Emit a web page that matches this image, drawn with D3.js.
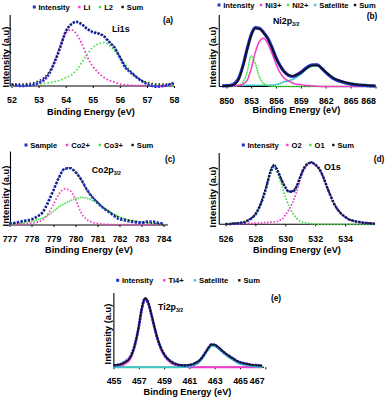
<!DOCTYPE html>
<html>
<head>
<meta charset="utf-8">
<script src="https://cdnjs.cloudflare.com/ajax/libs/d3/7.8.5/d3.min.js"></script>
<style>
  body { margin: 0; background: #fff; }
  svg { display: block; }
  text { font-family: "Liberation Sans", Arial, sans-serif; font-weight: bold; fill: #000; }
</style>
</head>
<body>
<svg id="chart" width="389" height="398"></svg>
<script>
// ---- (a) Li1s ----
var liEnergy = [52, 52.2, 52.4, 52.6, 52.8, 53, 53.2, 53.4, 53.6, 53.8, 54, 54.2, 54.4, 54.6, 54.8, 55,
  55.2, 55.4, 55.6, 55.8, 56, 56.2, 56.4, 56.6, 56.8, 57, 57.2, 57.4, 57.6, 57.8, 58];
var liIntensity = [2, 1, 0, 1, 2, 5, 10, 20, 38, 60, 85, 96, 100, 96, 89, 84, 82, 78, 69, 60, 45, 29, 21, 14, 8, 3, 0, -1, 0, 2, 5];
var liLi = [0, 0, 0.5, 1, 1.5, 3, 8, 19, 40, 64, 82, 88, 81, 66, 45, 31, 21, 14, 9, 6, 3, 2, 1, 0.5, 0.5, 0, 0, 0, 0, 0, 0];
var liL2 = [0, 0.5, 1, 1.5, 2, 3, 4, 5, 7, 9, 13, 17, 25, 37, 50, 60, 66, 68, 64, 55, 45, 34, 23, 15, 9, 5, 3, 2, 1, 0.5, 0];
var liSum = [3, 3, 3, 4, 5, 8, 13, 23, 39, 61, 85, 97, 101, 97, 90, 85, 83, 79, 70, 61, 46, 31, 23, 15, 9, 6, 4, 3, 3, 3, 3];

// ---- (b) Ni2p3/2 ----
var niEnergy = [849.5, 850, 850.5, 851, 851.5, 852, 852.5, 853, 853.5, 854, 854.5, 855, 855.5, 856, 856.5,
  857, 857.5, 858, 858.5, 859, 859.5, 860, 860.5, 861, 861.5, 862, 862.5, 863, 863.5, 864, 864.5,
  865, 865.5, 866, 866.5, 867, 867.5, 868];
var niIntensity = [1, 1.5, 2, 5, 14, 35, 63, 88, 100, 99, 92, 82, 67, 49, 35, 25, 19, 17, 20, 24, 30, 35, 37, 37, 31,
  24, 18, 13, 10, 8, 6, 4.5, 3, 2.5, 2, 1.5, 1, 1];
var niNi3 = [0, 0, 0.5, 1, 2, 3.5, 10, 30, 58, 77, 82, 73, 57, 38, 23, 14, 9, 6, 4, 3, 2, 1.5, 1, 0.5, 0,
  0, 0, 0, 0, 0, 0, 0, 0, 0, 0, 0, 0, 0];
var niNi2 = [0, 0, 0, 0.5, 2, 7, 24, 52, 39, 16, 5, 1.5, 0.5, 0, 0, 0, 0, 0, 0, 0, 0, 0, 0, 0, 0,
  0, 0, 0, 0, 0, 0, 0, 0, 0, 0, 0, 0, 0];
var niSat = [0, 0.5, 1, 1, 1.5, 1.5, 2, 2, 2, 2, 2, 2, 2.5, 3, 5, 8, 10, 12, 16, 21, 27, 32, 35, 35, 31,
  23, 17, 12, 8.5, 6, 4, 3, 2, 1.5, 1, 0.5, 0.5, 0];
var niSum = [0.5, 1, 1.5, 3.5, 12, 34, 62, 87, 99, 98, 91, 81, 66, 48, 35, 25, 20, 18, 20, 24, 29, 34, 36, 36, 31,
  25, 19, 14, 11, 8.5, 6.5, 5, 4, 3, 2.5, 2, 1.5, 1];

// ---- (c) Co2p3/2 ----
var coEnergy = [777, 777.25, 777.5, 777.75, 778, 778.25, 778.5, 778.75, 779, 779.25, 779.5, 779.75, 780,
  780.25, 780.5, 780.75, 781, 781.25, 781.5, 781.75, 782, 782.25, 782.5, 782.75, 783, 783.25, 783.5, 783.75, 784];
var coSample = [3, 4, 6, 8, 10, 15, 22, 40, 61, 83, 98, 99, 92, 80, 63, 49, 39, 30, 23, 16, 10, 8, 6, 4.5, 4, 6, 6, 4, 2.5];
var coCo2 = [1, 1, 1.5, 2, 3, 5, 9, 19, 36, 54, 63, 60, 45, 22, 10, 5, 3, 1.5, 1, 0.5, 0.5, 0.5, 0.5, 0.5, 0.5, 0.5, 0.5, 0.5, 0.5];
var coCo3 = [1, 2, 3, 4.5, 6, 9, 12, 17, 24, 32, 37, 42, 46, 48, 47, 43, 38, 31, 25, 19, 14, 11, 8, 6.5, 5, 4, 3, 2, 1];
var coSum = [2, 3, 4.5, 6.5, 9, 14, 21, 37, 60, 83, 98, 100, 93, 79, 62, 50, 40, 31, 24, 18, 13, 10, 8, 6.5, 5, 4, 3, 2, 1];

// ---- (d) O1s ----
var oEnergy = [526, 526.25, 526.5, 526.75, 527, 527.25, 527.5, 527.75, 528, 528.25, 528.5, 528.75, 529, 529.25,
  529.5, 529.75, 530, 530.25, 530.5, 530.75, 531, 531.25, 531.5, 531.75, 532, 532.25, 532.5, 532.75, 533,
  533.25, 533.5, 533.75, 534, 534.25, 534.5, 534.75, 535, 535.25, 535.5, 535.75, 536];
var oIntensity = [0.5, 0.5, 1, 1.5, 2, 3, 6, 10, 16, 27, 42, 62, 84, 94, 86, 72, 60, 53, 53, 61, 77, 91, 98, 100, 97,
  91, 79, 63, 48, 34, 24, 17, 12, 8, 6, 4.5, 3.5, 2.5, 2, 1.5, 1];
var oO2 = [0, 0, 0.5, 0.5, 1, 1, 1.5, 1.5, 2, 2, 2.5, 3, 3.5, 4, 5, 8, 15, 24, 36, 52, 72, 88, 97, 100, 96,
  90, 79, 63, 48, 34, 24, 17, 12, 8, 6, 4.5, 3.5, 2.5, 2, 1.5, 1];
var oO1 = [0.5, 0.5, 1, 1, 2, 3, 5.5, 9, 15, 26, 41, 61, 83, 93, 82, 64, 45, 29, 18, 10, 5, 3, 2, 1, 0.5,
  0, 0, 0, 0, 0, 0, 0, 0, 0, 0, 0, 0, 0, 0, 0, 0];
var oSum = [0.5, 0.5, 1.5, 1.5, 3, 4, 7, 10.5, 17, 28, 43.5, 64, 86.5, 97, 87, 72, 60, 53, 54, 62, 77, 91, 99, 101, 96.5,
  90, 79, 63, 48, 34, 24, 17, 12, 8, 6, 4.5, 3.5, 2.5, 2, 1.5, 1];

// ---- (e) Ti2p3/2 ----
var tiEnergy = [455, 455.25, 455.5, 455.75, 456, 456.25, 456.5, 456.75, 457, 457.25, 457.5, 457.75, 458, 458.25,
  458.5, 458.75, 459, 459.25, 459.5, 459.75, 460, 460.25, 460.5, 460.75, 461, 461.25, 461.5, 461.75, 462,
  462.25, 462.5, 462.75, 463, 463.25, 463.5, 463.75, 464, 464.25, 464.5, 464.75, 465, 465.25, 465.5, 465.75,
  466, 466.25, 466.5, 466.75];
var tiIntensity = [2, 3, 4, 6, 9, 13, 22, 37, 59, 86, 100, 93, 76, 57, 40, 28, 19, 13, 9, 6, 4, 3, 2.5, 2.5, 3,
  4, 6, 9, 14, 21, 28, 33, 32, 29, 25, 21, 18, 15, 12, 9, 7, 6, 5, 4, 3, 3, 2.5, 2];
var tiTi4 = [0.5, 1, 1.5, 3, 6, 10, 19, 35, 58, 85, 98, 92, 75, 56, 39, 26, 17, 11, 7, 4, 2.5, 1.5, 1, 0.5,
  0, 0, 0, 0, 0, 0, 0, 0, 0, 0, 0, 0, 0, 0, 0, 0, 0, 0, 0, 0, 0, 0, 0, 0];
var tiSat = [0, 0, 0, 0, 0, 0, 0, 0, 0, 0, 0, 0, 0, 0, 0, 0, 0, 0, 0, 0, 0, 0, 0.5, 0.5, 1,
  2, 4, 7, 12, 19, 26, 31, 31, 28, 24, 20, 16, 13, 10, 7, 5, 4, 3, 2, 1.5, 1, 0.5, 0.5];
var tiSum = [3, 3.5, 4, 5.5, 8, 12, 21, 37, 60, 87, 100, 94, 77, 58, 41, 28, 19, 13, 9, 6, 4.5, 3.5, 3, 3, 3.5,
  4.5, 6.5, 9.5, 14, 21, 28, 33, 33, 30, 26, 22, 18, 15, 12, 9.5, 7.5, 6, 5, 4, 3.5, 3, 2.5, 2.5];

var BLUE = "#2233d0", PINK = "#f03cc8", GREEN = "#44e044", CYAN = "#3cc8c8", BLACK = "#111";

var panels = [
  { label: "(a)", labelPos: [168, 20], title: ["Li1s", ""], titlePos: [112, 29],
    energy: liEnergy, xDomain: [52, 58], xRange: [11.5, 174], xLo: 51.95, xHi: 58,
    ticks: [52, 53, 54, 55, 56, 57, 58], clampLast: false,
    base: 86, top: 22, axisTop: 15,
    legendY: 7, legendSpan: [34.3, 143.3],
    yTitle: [6, 57], xTitle: [91, 111.7],
    series: [
      { name: "Intensity", values: liIntensity, color: BLUE, width: 2.6, dash: "2.4 1.1", z: 2 },
      { name: "Li", values: liLi, color: PINK, width: 1.8, dash: "1.7 1.9", z: 0 },
      { name: "L2", values: liL2, color: GREEN, width: 1.7, dash: "1.6 2", z: 1 },
      { name: "Sum", values: liSum, color: BLACK, width: 1.5, dash: "1.4 2.2", z: 3 }
    ] },
  { label: "(b)", labelPos: [372, 16], title: ["Ni2p", "3/2"], titlePos: [273, 21],
    energy: niEnergy, xDomain: [850, 868], xRange: [226.3, 375.5], xLo: 849.15, xHi: 868,
    ticks: [850, 853, 856, 859, 862, 865, 868], clampLast: true,
    base: 86.5, top: 27.7, axisTop: 15,
    legendY: 5, legendSpan: [219, 375.7],
    yTitle: [212.3, 57], xTitle: [296.5, 109.5],
    series: [
      { name: "Intensity", values: niIntensity, color: BLUE, width: 3.2, dash: null, z: 3 },
      { name: "Ni3+", values: niNi3, color: PINK, width: 1.5, dash: null, z: 2 },
      { name: "Ni2+", values: niNi2, color: GREEN, width: 1.4, dash: "2 0.6", z: 1 },
      { name: "Satellite", values: niSat, color: CYAN, width: 1.5, dash: null, z: 0 },
      { name: "Sum", values: niSum, color: BLACK, width: 1.7, dash: null, z: 4 }
    ] },
  { label: "(c)", labelPos: [170, 159], title: ["Co2p", "3/2"], titlePos: [91.7, 170],
    energy: coEnergy, xDomain: [777, 784], xRange: [9.5, 163.5], xLo: 777.045, xHi: 784.2,
    ticks: [777, 778, 779, 780, 781, 782, 783, 784], clampLast: false,
    base: 225, top: 167.7, axisTop: 151.5,
    legendY: 145, legendSpan: [26, 153.3],
    yTitle: [6, 196], xTitle: [89, 250],
    series: [
      { name: "Sample", values: coSample, color: BLUE, width: 2.6, dash: "2.4 1.3", z: 2 },
      { name: "Co2+", values: coCo2, color: PINK, width: 1.7, dash: "1.6 1.8", z: 1 },
      { name: "Co3+", values: coCo3, color: GREEN, width: 1.6, dash: "1.5 0.9", z: 0 },
      { name: "Sum", values: coSum, color: BLACK, width: 1.5, dash: "1.4 2.4", z: 3 }
    ] },
  { label: "(d)", labelPos: [379, 159], title: ["O1s", ""], titlePos: [324, 167],
    energy: oEnergy, xDomain: [526, 536], xRange: [225.5, 375], xLo: 525.58, xHi: 536,
    ticks: [526, 528, 530, 532, 534], clampLast: false,
    base: 224.3, top: 162.7, axisTop: 153,
    legendY: 145, legendSpan: [243.3, 354],
    yTitle: [212.3, 197], xTitle: [297, 250],
    series: [
      { name: "Intensity", values: oIntensity, color: BLUE, width: 2.6, dash: "2.4 1.2", z: 2 },
      { name: "O2", values: oO2, color: PINK, width: 1.7, dash: "1.6 1.6", z: 1 },
      { name: "O1", values: oO1, color: GREEN, width: 1.7, dash: "1.6 1.6", z: 0 },
      { name: "Sum", values: oSum, color: BLACK, width: 1.6, dash: "2 1", z: 3 }
    ] },
  { label: "(e)", labelPos: [276, 298], title: ["Ti2p", "3/2"], titlePos: [158, 307],
    energy: tiEnergy, xDomain: [455, 467], xRange: [113.5, 265.3], xLo: 455.03, xHi: 466.9,
    ticks: [455, 457, 459, 461, 463, 465, 467], clampLast: true,
    base: 367.2, top: 298.3, axisTop: 293,
    legendY: 280.3, legendSpan: [117.7, 260],
    yTitle: [107.7, 334], xTitle: [187.5, 391.7],
    series: [
      { name: "Intensity", values: tiIntensity, color: BLUE, width: 2.8, dash: "2.5 0.7", z: 2 },
      { name: "Ti4+", values: tiTi4, color: PINK, width: 2, dash: null, z: 0 },
      { name: "Satellite", values: tiSat, color: CYAN, width: 2, dash: null, z: 1 },
      { name: "Sum", values: tiSum, color: BLACK, width: 1.4, dash: null, z: 3 }
    ] }
];

var svg = d3.select("#chart");

function drawPanel(p) {
  var x = d3.scaleLinear().domain(p.xDomain).range(p.xRange);
  var y = d3.scaleLinear().domain([0, 100]).range([p.base, p.top]);
  var g = svg.append("g");

  // axes first, so the traces sit on top of the baseline
  var xAxis = d3.axisBottom(x).tickValues(p.ticks).tickSize(2).tickSizeOuter(0).tickFormat(d3.format("d"));
  var ax = g.append("g")
    .attr("transform", "translate(0," + p.base + ")")
    .call(xAxis);
  ax.select(".domain").remove();
  ax.attr("font-family", null).attr("font-size", 8.8);
  ax.selectAll(".tick line").attr("stroke", "#000");
  ax.selectAll(".tick text").attr("y", 11).style("font-weight", "bold");
  if (p.clampLast) {
    var last = ax.selectAll(".tick text").filter(function(d) { return d === p.ticks[p.ticks.length - 1]; });
    var w = last.node().getComputedTextLength();
    var over = x(p.ticks[p.ticks.length - 1]) + w / 2 - x(p.xHi);
    if (over > 0) last.attr("x", -over);
  }
  g.append("line")
    .attr("x1", x(p.xLo)).attr("x2", x(p.xHi))
    .attr("y1", p.base).attr("y2", p.base)
    .attr("stroke", "#000").attr("stroke-width", 1.1);
  g.append("line")
    .attr("x1", x(p.xLo)).attr("x2", x(p.xLo))
    .attr("y1", p.base).attr("y2", p.axisTop)
    .attr("stroke", "#000").attr("stroke-width", 1.1);

  // traces
  var drawOrder = p.series.slice().sort(function(a, b) { return a.z - b.z; });
  drawOrder.forEach(function(s) {
    var line = d3.line()
      .x(function(d, i) { return x(p.energy[i]); })
      .y(function(d) { return y(d); })
      .curve(d3.curveMonotoneX);
    g.append("path")
      .attr("d", line(s.values))
      .attr("fill", "none")
      .attr("stroke", s.color)
      .attr("stroke-width", s.width)
      .attr("stroke-dasharray", s.dash);
  });

  // legend
  var lg = g.append("g");
  var texts = p.series.map(function(s) {
    return lg.append("text").attr("font-size", 7.6).attr("dy", "0.35em").text(s.name);
  });
  var widths = texts.map(function(t) { return t.node().getComputedTextLength(); });
  var m2t = 4.2;
  var gap = (p.legendSpan[1] - p.legendSpan[0] - d3.sum(widths) - m2t * widths.length) / (widths.length - 1);
  var cx = p.legendSpan[0];
  p.series.forEach(function(s, i) {
    var sz = s.color === BLUE ? 3 : 2.4;
    lg.append("rect")
      .attr("x", cx - sz / 2).attr("y", p.legendY - sz / 2)
      .attr("width", sz).attr("height", sz)
      .attr("fill", s.color);
    texts[i].attr("x", cx + m2t).attr("y", p.legendY);
    cx += m2t + widths[i] + gap;
  });

  // titles
  g.append("text")
    .attr("transform", "translate(" + p.yTitle[0] + "," + p.yTitle[1] + ") rotate(-90)")
    .attr("text-anchor", "middle").attr("dy", "0.35em")
    .attr("font-size", 9.4)
    .text("Intensity (a.u)");
  g.append("text")
    .attr("x", p.xTitle[0]).attr("y", p.xTitle[1])
    .attr("text-anchor", "middle").attr("dy", "0.35em")
    .attr("font-size", 9.2)
    .text("Binding Energy (eV)");
  g.append("text")
    .attr("x", p.labelPos[0]).attr("y", p.labelPos[1])
    .attr("text-anchor", "middle").attr("dy", "0.35em")
    .attr("font-size", 8.4)
    .text(p.label);
  var tt = g.append("text")
    .attr("x", p.titlePos[0]).attr("y", p.titlePos[1])
    .attr("dy", "0.35em")
    .attr("font-size", 8.8);
  tt.append("tspan").text(p.title[0]);
  if (p.title[1]) {
    tt.append("tspan").attr("font-size", 5.2).attr("dy", 2.2).text(p.title[1]);
  }
}

panels.forEach(drawPanel);
</script>
</body>
</html>
